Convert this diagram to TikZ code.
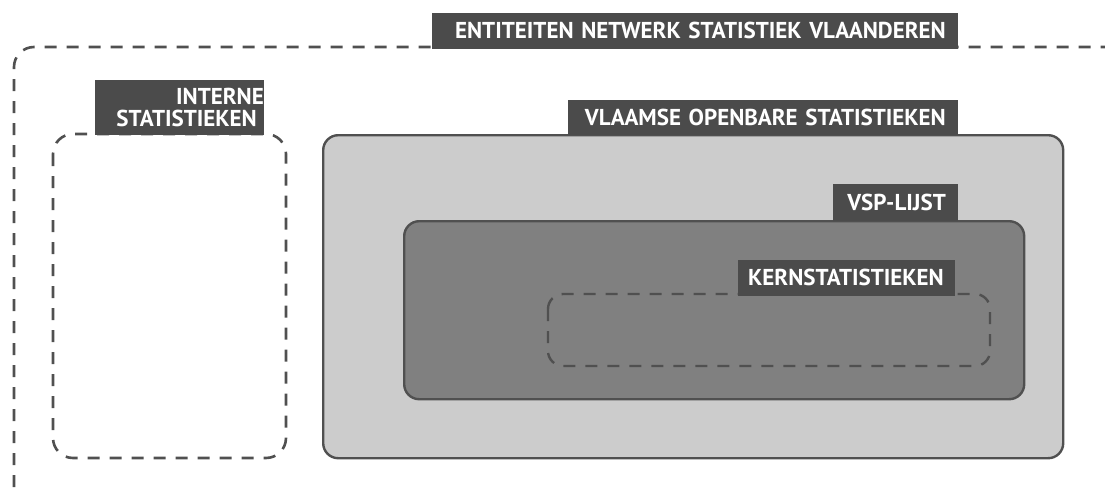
\documentclass[tikz,border=0pt]{standalone}
\usepackage{fontspec}
\setmainfont{PT Sans}
\definecolor{lbl}{HTML}{4B4B4B}
\definecolor{edge}{HTML}{505050}
\definecolor{lightbox}{HTML}{CCCCCC}
\definecolor{darkbox}{HTML}{808080}
\begin{document}
\begin{tikzpicture}[x=1pt,y=-1pt,
  dashline/.style={draw=edge,line width=2.6pt,dash pattern=on 12pt off 10pt},
  solidbox/.style={draw=edge,line width=2.4pt,rounded corners=15pt},
  tag/.style={fill=lbl,text=white,inner sep=0pt,font=\bfseries\fontsize{23}{21.5}\selectfont,align=right,anchor=south east}]
\useasboundingbox[fill=white] (0,0) rectangle (1105,487);
% outer dashed frame
\coordinate (obl) at (14,487);
\coordinate (otr) at (1105,47);
\draw[dashline,rounded corners=20pt] (obl) -- (14,47) -- (otr);
% interne dashed box
\draw[dashline,rounded corners=20pt] (53,134) rectangle (286,458);
% light box
\node[solidbox,fill=lightbox,minimum width=740pt,minimum height=323pt,anchor=north west,inner sep=0pt] (vos) at (322,134) {};
% dark box
\node[solidbox,fill=darkbox,minimum width=620pt,minimum height=178pt,anchor=north west,inner sep=0pt] (vsp) at (403,220) {};
% kern dashed box
\draw[dashline,line width=2.4pt,rounded corners=15pt] (548,294) rectangle (990,366);
% labels
\node[tag,minimum width=526pt,minimum height=36pt,text width=526pt] (tent) at (958,49) {ENTITEITEN NETWERK STATISTIEK VLAANDEREN\hspace*{12pt}};
\node[tag,minimum width=169pt,minimum height=55pt,text width=169pt] (tint) at (264,135) {INTERNE\hspace*{7pt}\\STATISTIEKEN\hspace*{7pt}};
\node[tag,minimum width=390pt,minimum height=35pt,text width=390pt] (tvos) at (958,135) {VLAAMSE OPENBARE STATISTIEKEN\hspace*{12pt}};
\node[tag,minimum width=125pt,minimum height=37pt,text width=125pt] (tvsp) at (958,221) {VSP-LIJST\hspace*{12pt}};
\node[tag,minimum width=217pt,minimum height=36pt,text width=217pt] (tkern) at (955,296) {KERNSTATISTIEKEN\hspace*{11pt}};
\end{tikzpicture}
\end{document}
